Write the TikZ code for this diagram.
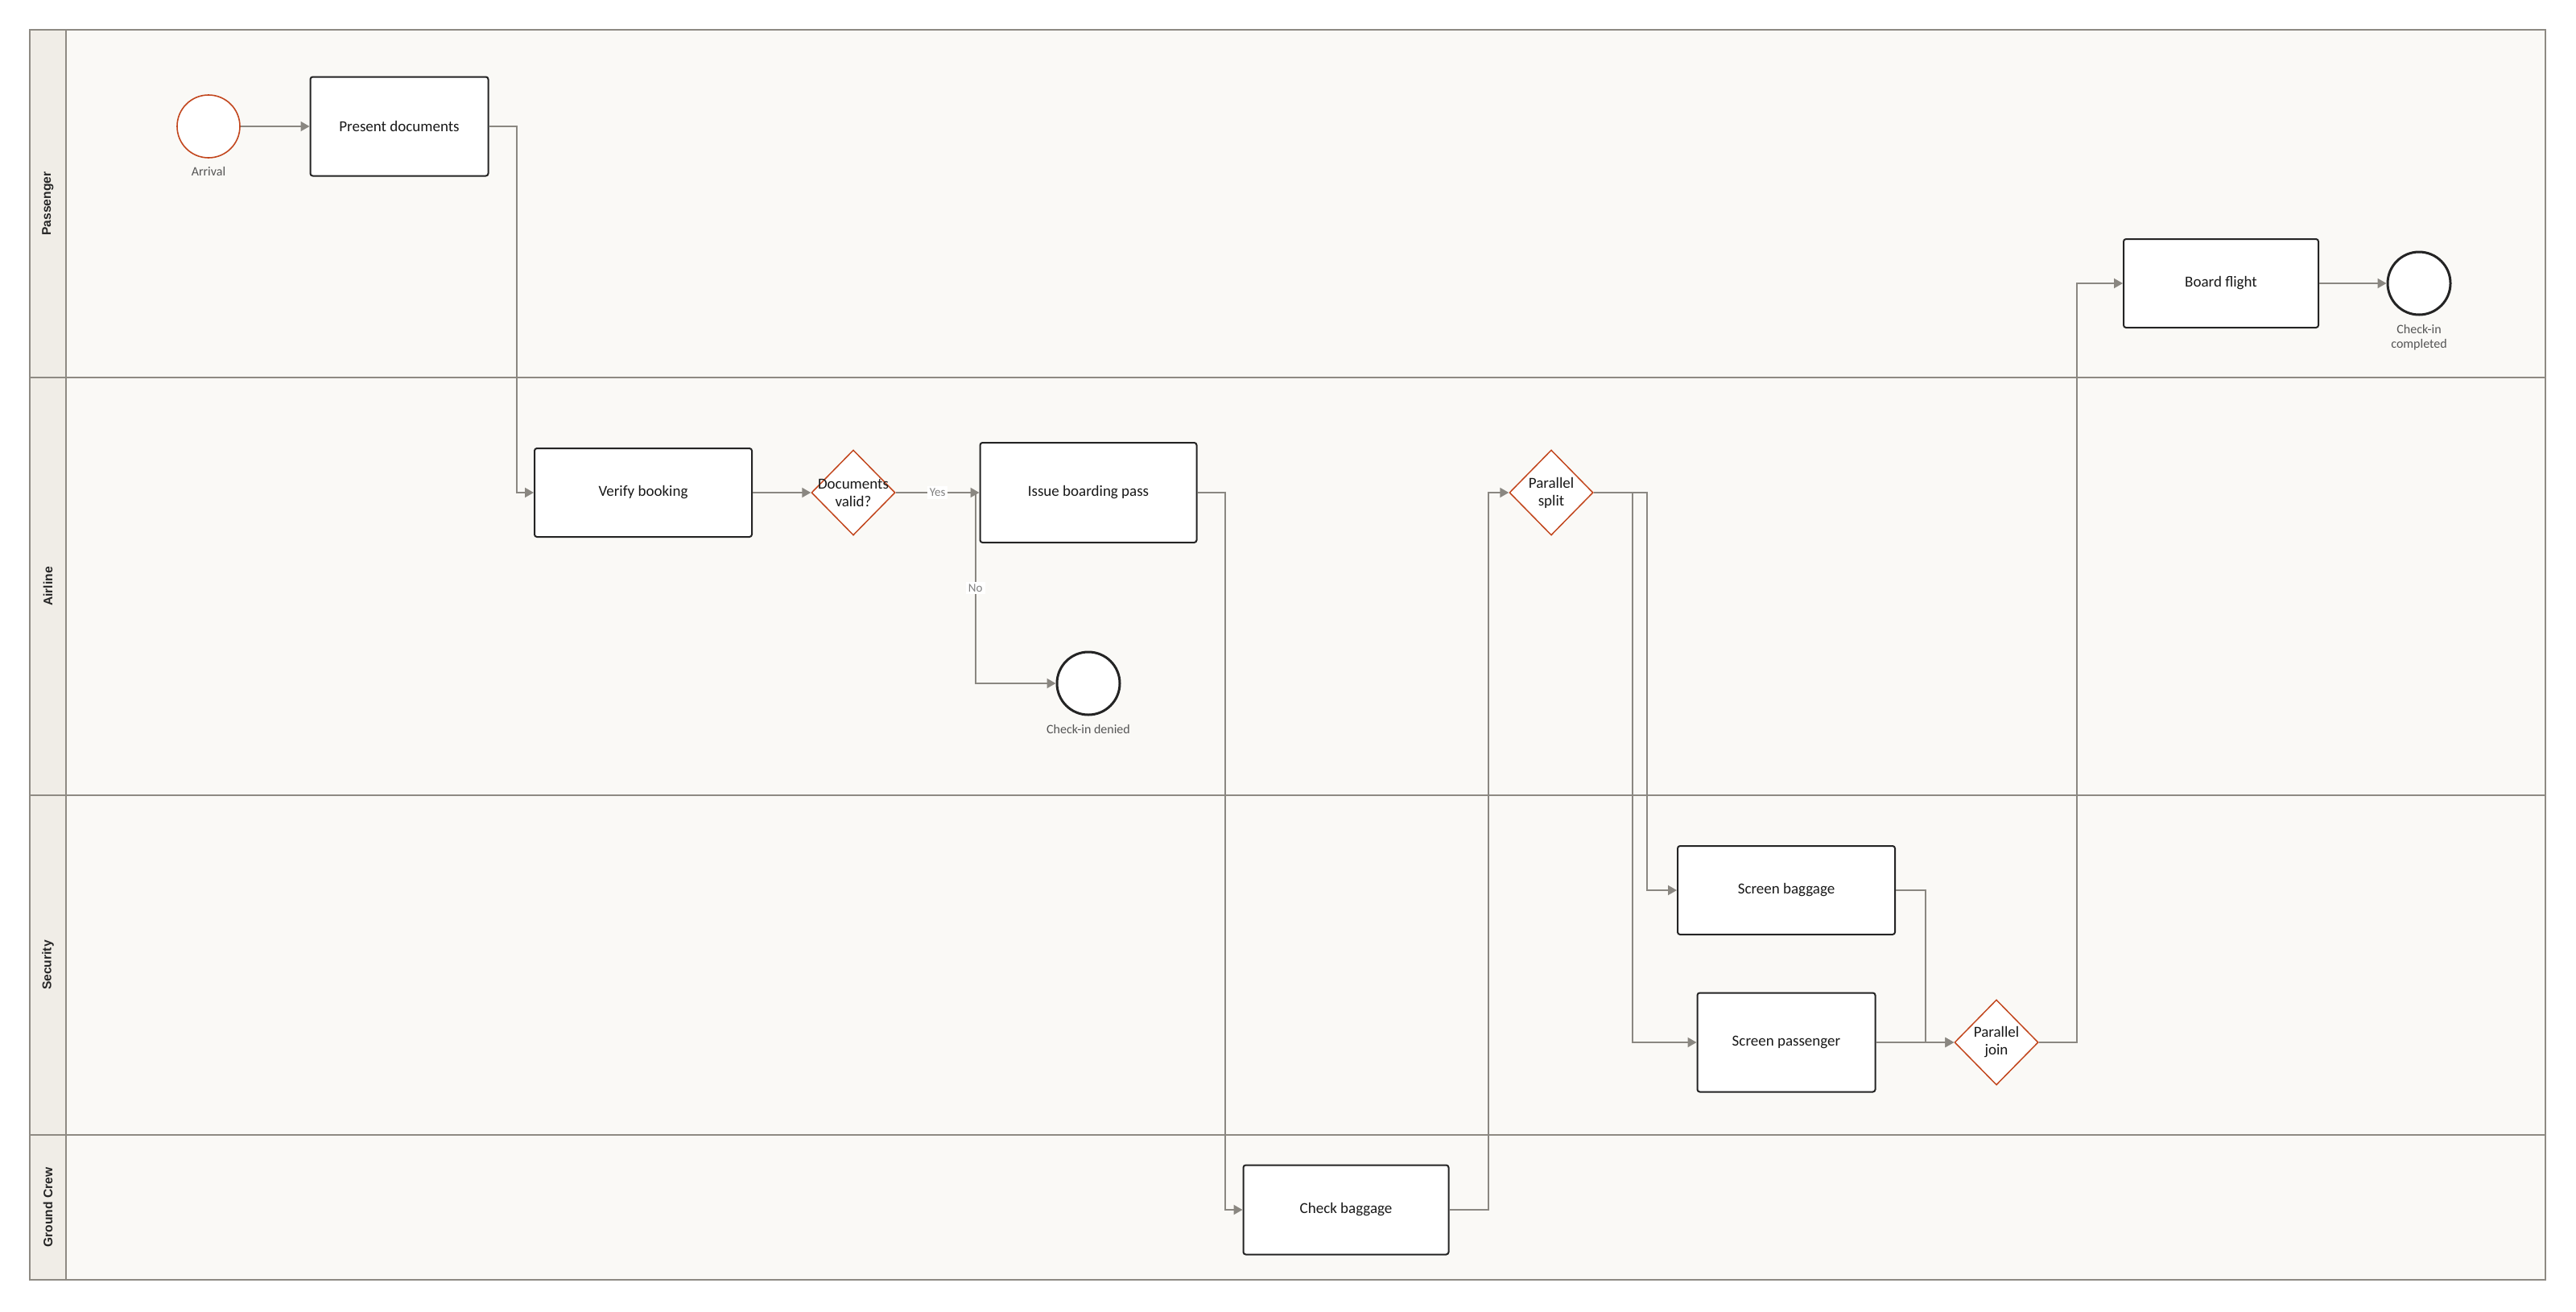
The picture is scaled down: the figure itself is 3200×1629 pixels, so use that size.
\documentclass[tikz,border=0pt]{standalone}
\usepackage{fontspec}
\setmainfont{Carlito}
\newfontfamily\lanefont{Liberation Sans}
\usetikzlibrary{arrows.meta,shapes.geometric}

\definecolor{poolbg}{HTML}{FAF9F6}
\definecolor{headbg}{HTML}{F0EDE7}
\definecolor{laneline}{HTML}{8E8A83}
\definecolor{flowline}{HTML}{8A8781}
\definecolor{taskline}{HTML}{242424}
\definecolor{gateline}{HTML}{C2461D}
\definecolor{labelgrey}{HTML}{555555}

\begin{document}
\begin{tikzpicture}[x=0.5pt,y=-0.5pt,
	lanebox/.style={draw=laneline,line width=1pt},
	lanename/.style={rotate=90,font=\fontsize{7.8}{9}\lanefont\bfseries,text=black!85},
	task/.style={draw=taskline,fill=white,line width=1pt,rounded corners=1.5pt,text=black!90,font=\fontsize{9.5}{11}\selectfont},
	gate/.style={diamond,draw=gateline,fill=white,line width=0.75pt,minimum width=52pt,minimum height=53pt,inner sep=0pt},
	gatetext/.style={align=center,text=black!90,font=\fontsize{9.5}{11}\selectfont},
	startev/.style={circle,draw=gateline,fill=white,line width=0.8pt,minimum size=39pt,inner sep=0pt},
	endev/.style={circle,draw=taskline,fill=white,line width=1.5pt,minimum size=39pt,inner sep=0pt},
	evlabel/.style={align=center,text=labelgrey,font=\fontsize{8}{9}\selectfont},
	flow/.style={draw=flowline,line width=1pt,-{Triangle[length=5.5pt,width=6pt]}},
	edgelabel/.style={fill=white,inner sep=1.5pt,text=black!50,font=\fontsize{7.5}{8}\selectfont}]
	\useasboundingbox (0,0) rectangle (3200,1629);
	
	\fill [poolbg] (37,37) rectangle (3162,1590);
	\fill [headbg] (37,37) rectangle (82,1590);
	\foreach \i/\t/\b/\name in {1/37/469/Passenger,2/469/988/Airline,3/988/1410/Security,4/1410/1590/Ground Crew}{
		\draw [lanebox] (37,\t) rectangle (3162,\b);
		\draw [lanebox] (82,\t) -- (82,\b);
		\node (lane\i) [lanename] at (59.5,{(\t+\b)/2}) {\name};
	}
	
	\node (arrival) [startev,label={[evlabel,label distance=2pt]below:Arrival}] at (259,157) {};
	\node (present) [task,minimum width=110.5pt,minimum height=61.5pt] at (496,157) {Present documents};
	\node (verify) [task,minimum width=135pt,minimum height=55pt] at (799,612) {Verify booking};
	\node (docs) [gate,label={[gatetext]center:Documents\\valid?}] at (1060,612) {};
	\node (issue) [task,minimum width=134.5pt,minimum height=62pt] at (1352,612) {Issue boarding pass};
	\node (denied) [endev,label={[evlabel,label distance=2pt]below:Check-in denied}] at (1352,849) {};
	\node (checkbag) [task,minimum width=127.5pt,minimum height=55.5pt] at (1672,1503) {Check baggage};
	\node (split) [gate,label={[gatetext]center:Parallel\\split}] at (1927,612) {};
	\node (scrbag) [task,minimum width=135pt,minimum height=55pt] at (2219,1106) {Screen baggage};
	\node (scrpass) [task,minimum width=110.5pt,minimum height=61.5pt] at (2219,1295) {Screen passenger};
	\node (join) [gate,label={[gatetext]center:Parallel\\join}] at (2480,1295) {};
	\node (board) [task,minimum width=121pt,minimum height=55pt] at (2759,352) {Board flight};
	\node (done) [endev,label={[evlabel,label distance=2pt]below:Check-in\\completed}] at (3005,352) {};
	
	\draw [flow] (arrival) -- (present);
	\draw [flow] (present.east) -- ++(34,0) |- (verify.west);
	\draw [flow] (verify) -- (docs);
	\draw [flow] (docs.east) -- ++(99,0) |- node [edgelabel,pos=0.25] {No} (denied);
	\draw [flow] (docs) -- node [edgelabel] {Yes} (issue);
	\draw [flow] (issue.east) -- ++(34,0) |- (checkbag.west);
	\draw [flow] (checkbag.east) -- ++(48,0) |- (split.west);
	\draw [flow] (split.east) -- ++(66,0) |- (scrbag.west);
	\draw [flow] (split.east) -- ++(48,0) |- (scrpass.west);
	\draw [flow] (scrbag.east) -- ++(37,0) |- (join.west);
	\draw [flow] (scrpass) -- (join);
	\draw [flow] (join.east) -- ++(47,0) |- (board.west);
	\draw [flow] (board) -- (done);
\end{tikzpicture}
\end{document}
